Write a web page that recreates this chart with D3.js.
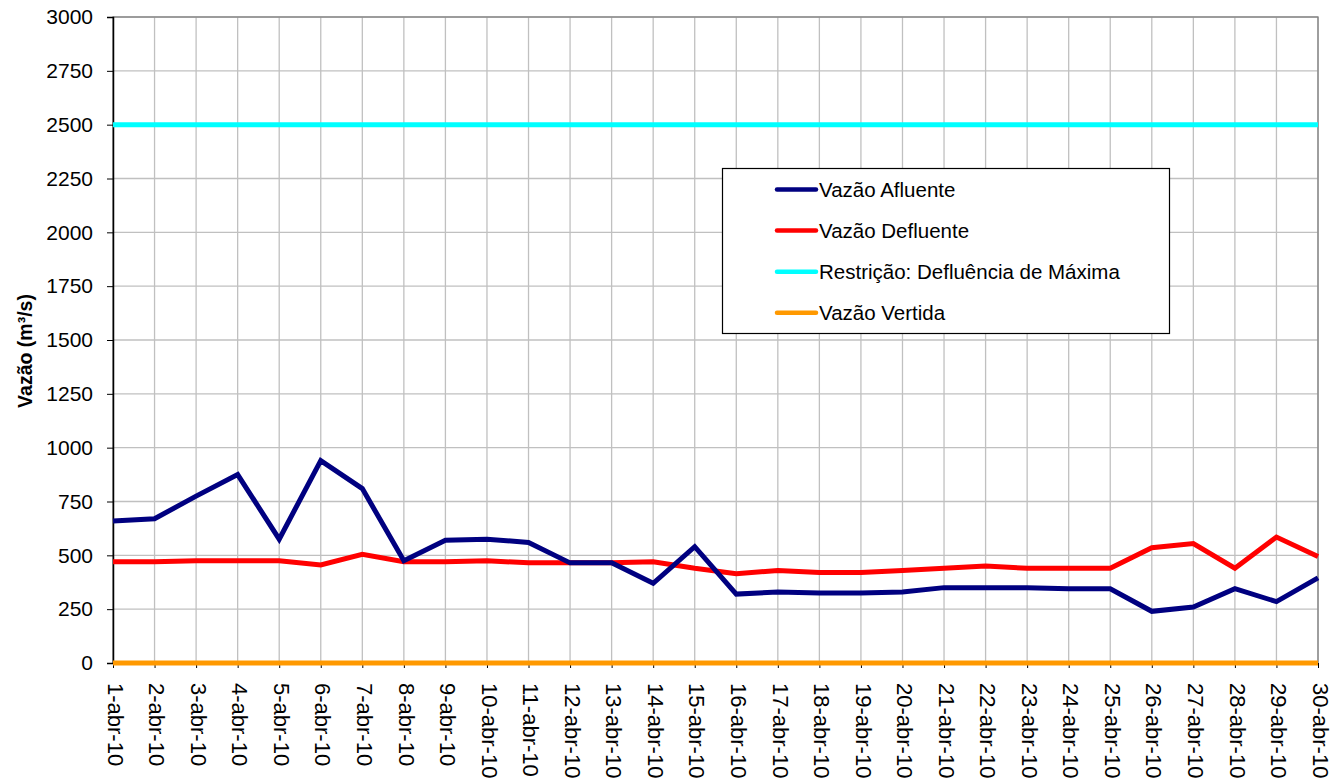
<!DOCTYPE html>
<html>
<head>
<meta charset="utf-8">
<script src="https://cdn.jsdelivr.net/npm/d3@7"></script>
<style>
  body { margin: 0; background: #fff; }
  text { font-family: "Liberation Sans", Arial, sans-serif; }
</style>
</head>
<body>
<div id="container"></div>
<script>
// chart data
const days = d3.range(1, 31).map(d => d + "-abr-10");
const afluente = [660, 670, 775, 875, 575, 940, 810, 475, 570, 575,
  560, 465, 465, 370, 540, 320, 330, 325, 325, 330,
  350, 350, 350, 345, 345, 240, 260, 345, 285, 395];
const defluente = [470, 470, 475, 475, 475, 455, 505, 470, 470, 475,
  465, 465, 465, 470, 440, 415, 430, 420, 420, 430,
  440, 450, 440, 440, 440, 535, 555, 440, 585, 495];
const restricao = days.map(() => 2500);
const vertida = days.map(() => 0);
const yTicks = [0, 250, 500, 750, 1000, 1250, 1500, 1750, 2000, 2250, 2500, 2750, 3000];

const seriesNames = ["Vazão Afluente", "Vazão Defluente", "Restrição: Defluência de Máxima", "Vazão Vertida"];
const seriesColors = ["#000080", "#ff0000", "#00ffff", "#ff9900"];
const seriesValues = [afluente, defluente, restricao, vertida];

const width = 1343, height = 783;
const margin = { top: 17, right: 25, bottom: 120, left: 113 };

const svg = d3.select("#container")
  .append("svg")
  .attr("width", width)
  .attr("height", height);

const x = d3.scalePoint()
  .domain(days)
  .range([margin.left, width - margin.right]);

const y = d3.scaleLinear()
  .domain([0, 3000])
  .range([height - margin.bottom, margin.top]);

// grid
const grid = svg.append("g").attr("id", "grid");
grid.selectAll("line.h")
  .data(yTicks)
  .enter()
  .append("line")
  .attr("x1", margin.left)
  .attr("x2", width - margin.right)
  .attr("y1", d => y(d))
  .attr("y2", d => y(d))
  .attr("stroke", "#c0c0c0")
  .attr("stroke-width", 1.3);
grid.selectAll("line.v")
  .data(days)
  .enter()
  .append("line")
  .attr("x1", d => x(d))
  .attr("x2", d => x(d))
  .attr("y1", margin.top)
  .attr("y2", height - margin.bottom)
  .attr("stroke", "#c0c0c0")
  .attr("stroke-width", 1.3);

// plot border
svg.append("rect")
  .attr("x", margin.left)
  .attr("y", margin.top)
  .attr("width", width - margin.right - margin.left)
  .attr("height", height - margin.bottom - margin.top)
  .attr("fill", "none")
  .attr("stroke", "#808080")
  .attr("stroke-width", 1.3);

// y axis
const yAxis = svg.append("g")
  .attr("transform", `translate(${margin.left},0)`)
  .call(d3.axisLeft(y).tickValues(yTicks).tickSize(6).tickPadding(14).tickFormat(d3.format("d")));
yAxis.select(".domain").attr("stroke", "#000").attr("stroke-width", 1.5);
yAxis.selectAll(".tick line").attr("stroke", "#000");
yAxis.selectAll("text")
  .attr("font-size", "21px")
  .attr("fill", "#000")
  .style("font-family", "'Liberation Sans', Arial, sans-serif");

// x axis
const xAxis = svg.append("g")
  .attr("transform", `translate(0,${height - margin.bottom})`)
  .call(d3.axisBottom(x).tickSize(5).tickSizeOuter(0));
xAxis.select(".domain").attr("stroke", "#000");
xAxis.selectAll(".tick line").attr("stroke", "#000");
xAxis.selectAll("text")
  .attr("font-size", "22px")
  .attr("fill", "#000")
  .style("font-family", "'Liberation Sans', Arial, sans-serif")
  .attr("text-anchor", "start")
  .attr("dominant-baseline", "middle")
  .attr("transform", "rotate(90)")
  .attr("x", 20)
  .attr("y", 0)
  .attr("dy", "0");

// y label
svg.append("text")
  .text("Vazão (m³/s)")
  .attr("transform", "translate(32,351) rotate(-90)")
  .attr("text-anchor", "middle")
  .attr("font-size", "19.5px")
  .attr("font-weight", "bold")
  .attr("fill", "#000");

// lines
const line = d3.line()
  .x((d, i) => x(days[i]))
  .y(d => y(d));

const order = [2, 3, 1, 0];
svg.append("g")
  .attr("id", "lines")
  .selectAll("path")
  .data(order)
  .enter()
  .append("path")
  .attr("d", i => line(seriesValues[i]))
  .attr("fill", "none")
  .attr("stroke", i => seriesColors[i])
  .attr("stroke-width", 5)
  .attr("stroke-linejoin", "miter");

// legend
const legend = svg.append("g").attr("id", "legend");
legend.append("rect")
  .attr("x", 722.5)
  .attr("y", 168.5)
  .attr("width", 447)
  .attr("height", 165)
  .attr("fill", "#fff")
  .attr("stroke", "#000")
  .attr("stroke-width", 1.2);

const items = legend.selectAll("g.item")
  .data(seriesNames)
  .enter()
  .append("g")
  .attr("transform", (d, i) => `translate(777,${189.5 + i * 41.1})`);
items.append("line")
  .attr("x1", 0)
  .attr("x2", 39)
  .attr("stroke", (d, i) => seriesColors[i])
  .attr("stroke-width", 4.5)
  .attr("stroke-linecap", "round");
items.append("text")
  .text(d => d)
  .attr("x", 42)
  .attr("dy", "0.35em")
  .attr("font-size", "20.5px")
  .attr("fill", "#000");
</script>
</body>
</html>
